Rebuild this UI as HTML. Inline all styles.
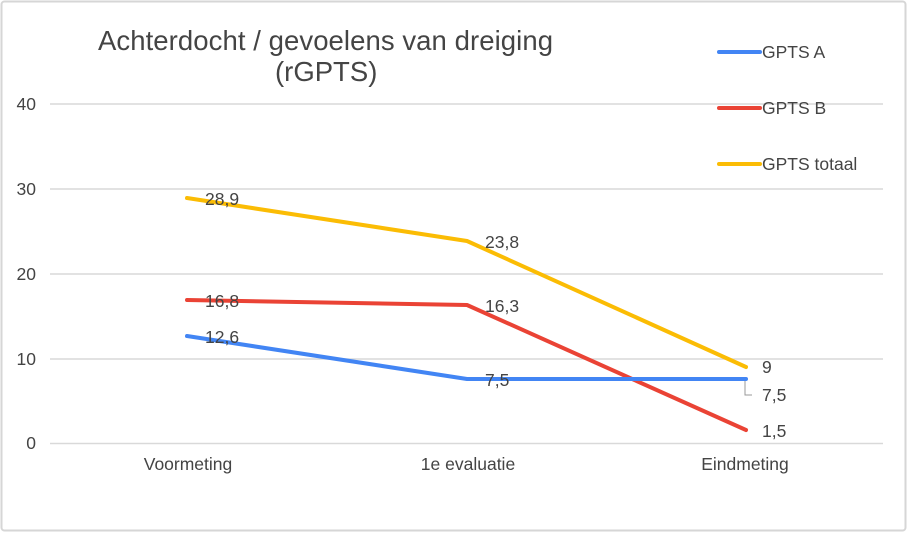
<!DOCTYPE html>
<html><head><meta charset="utf-8"><style>
body{margin:0;background:#fff}
svg text{font-family:"Liberation Sans",Arial,sans-serif;fill:#444}
</style></head><body>
<svg width="907" height="532" xmlns="http://www.w3.org/2000/svg">
<rect x="1.5" y="1.5" width="904" height="529" rx="3" fill="#fff" stroke="#d6d6d6" stroke-width="2"/>
<g stroke="#d9d9d9" stroke-width="1.5">
<line x1="50" y1="104" x2="883" y2="104"/>
<line x1="50" y1="189" x2="883" y2="189"/>
<line x1="50" y1="274" x2="883" y2="274"/>
<line x1="50" y1="359" x2="883" y2="359"/>
<line x1="50" y1="443.5" x2="883" y2="443.5"/>
</g>
<g font-size="17.5" text-anchor="end">
<text x="36" y="110">40</text><text x="36" y="195">30</text><text x="36" y="280">20</text><text x="36" y="365">10</text><text x="36" y="449">0</text>
</g>
<g font-size="17.5" text-anchor="middle">
<text x="188" y="470">Voormeting</text><text x="468" y="470">1e evaluatie</text><text x="745" y="470">Eindmeting</text>
</g>
<text x="98" y="50" font-size="27.5" textLength="455">Achterdocht / gevoelens van dreiging</text>
<text x="275" y="81" font-size="27.5">(rGPTS)</text>
<g fill="none" stroke-width="4" stroke-linecap="round" stroke-linejoin="round">
<polyline points="187,198 467,241 746,367" stroke="#fbbc04"/>
<polyline points="187,300 467,305 746,430" stroke="#ea4335"/>
<polyline points="187,336 467,379 746,379" stroke="#4285f4"/>
<line x1="719" y1="52" x2="760" y2="52" stroke="#4285f4"/>
<line x1="719" y1="108" x2="760" y2="108" stroke="#ea4335"/>
<line x1="719" y1="164" x2="760" y2="164" stroke="#fbbc04"/>
</g>
<polyline points="745,381 745,395 752,395" fill="none" stroke="#999" stroke-width="1"/>
<g font-size="17.5">
<text x="205" y="205">28,9</text><text x="485" y="248">23,8</text><text x="762" y="373">9</text>
<text x="205" y="307">16,8</text><text x="485" y="312">16,3</text><text x="762" y="437">1,5</text>
<text x="205" y="343">12,6</text><text x="485" y="386">7,5</text><text x="762" y="401">7,5</text>
<text x="762" y="58">GPTS A</text><text x="762" y="114">GPTS B</text><text x="762" y="170">GPTS totaal</text>
</g>
</svg>
</body></html>
